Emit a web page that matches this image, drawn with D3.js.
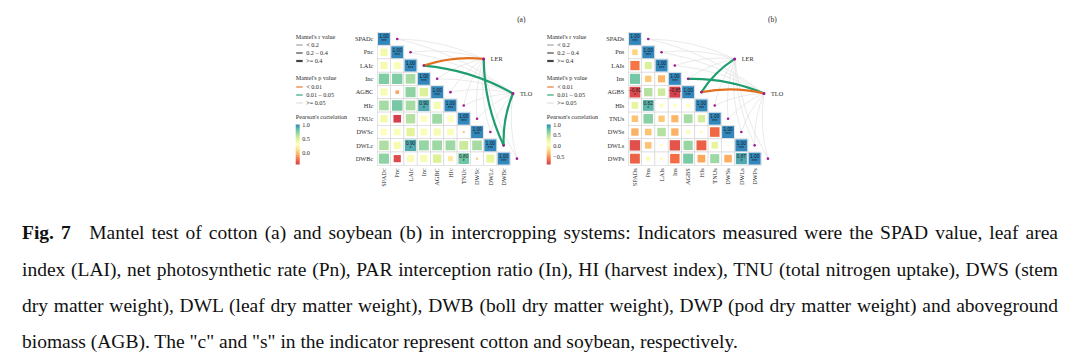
<!DOCTYPE html>
<html>
<head>
<meta charset="utf-8">
<script src="https://cdn.jsdelivr.net/npm/d3@7"></script>
<style>
  html, body { margin: 0; padding: 0; background: #fff; }
  svg { display: block; }
  .lab { font-family: "Liberation Serif", "Times New Roman", serif; fill: #2b2b2b; }
  .num { font-family: "Liberation Sans", Arial, sans-serif; fill: #1a1a1a; }
  .cap { font-family: "Liberation Serif", "Times New Roman", serif; fill: #111; }
</style>
</head>
<body>
<svg id="chart" width="1080" height="362"></svg>
<script>
// Mantel test panels: (a) cotton, (b) soybean
const varsA = ["SPADc", "Pnc", "LAIc", "Inc", "AGBC", "HIc", "TNUc", "DWSc", "DWLc", "DWBc"];
const varsB = ["SPADs", "Pns", "LAIs", "Ins", "AGBS", "HIs", "TNUs", "DWSs", "DWLs", "DWPs"];

// lower triangle of Pearson's r, row by row (diagonal included)
const corrA = [
    [1.00],
    [0.38, 1.00],
    [0.36, 0.33, 1.00],
    [0.76, 0.76, 0.66, 1.00],
    [0.35, -0.09, 0.72, 0.50, 1.00],
    [0.66, 0.78, 0.66, 0.90, 0.35, 1.00],
    [0.38, -0.41, 0.62, 0.30, 0.68, 0.30, 1.00],
    [0.30, 0.32, 0.48, 0.32, 0.36, 0.32, 0.03, 1.00],
    [0.64, 0.36, 0.90, 0.70, 0.68, 0.68, 0.55, 0.66, 1.00],
    [0.72, -0.36, 0.34, 0.35, 0.50, 0.18, 0.80, 0.03, 0.45, 1.00]
];
const corrB = [
    [1.00],
    [-0.22, 1.00],
    [-0.60, 0.35, 1.00],
    [0.72, -0.28, -0.36, 1.00],
    [-0.81, 0.50, 0.40, -0.85, 1.00],
    [0.30, 0.82, 0.10, 0.08, 0.10, 1.00],
    [-0.30, 0.65, -0.28, -0.36, 0.55, 0.38, 1.00],
    [-0.38, -0.30, 0.50, -0.38, 0.12, 0.05, -0.65, 1.00],
    [-0.77, -0.30, 0.04, -0.75, 0.60, -0.69, 0.30, 0.01, 1.00],
    [-0.68, 0.12, 0.05, -0.63, 0.70, -0.42, 0.58, -0.40, 0.87, 1.00]
];

// significant off-diagonal cells: [row, col, stars]
const sigA = [[5, 3, "*"], [8, 2, "*"], [9, 6, "*"]];
const sigB = [[4, 0, "*"], [4, 3, "*"], [5, 1, "*"], [9, 8, "*"]];

// Mantel's r and p, one row per environment factor (LER, TLO)
const envs = ["LER", "TLO"];
const mantelRA = [
    [0.12, 0.10, 0.52, 0.15, 0.08, 0.18, 0.10, 0.14, 0.45, 0.16],
    [0.10, 0.16, 0.47, 0.12, 0.14, 0.09, 0.17, 0.11, 0.48, 0.13]
];
const mantelPA = [
    [0.45, 0.62, 0.005, 0.38, 0.71, 0.30, 0.66, 0.52, 0.02, 0.41],
    [0.58, 0.33, 0.03, 0.49, 0.40, 0.77, 0.28, 0.61, 0.02, 0.44]
];
const mantelRB = [
    [0.10, 0.12, 0.08, 0.15, 0.46, 0.10, 0.13, 0.09, 0.16, 0.11],
    [0.14, 0.10, 0.12, 0.44, 0.50, 0.09, 0.15, 0.12, 0.10, 0.17]
];
const mantelPB = [
    [0.55, 0.47, 0.70, 0.36, 0.03, 0.58, 0.42, 0.66, 0.31, 0.50],
    [0.39, 0.61, 0.48, 0.04, 0.008, 0.72, 0.35, 0.53, 0.60, 0.29]
];

const limA = [-0.41, 1.0];
const limB = [-0.86, 1.0];
const ticksA = [1.0, 0.5, 0.0];
const ticksB = [1.0, 0.5, 0.0, -0.5];

const rBreaks = ["< 0.2", "0.2 \u2013 0.4", ">= 0.4"];
const pBreaks = ["< 0.01", "0.01 \u2013 0.05", ">= 0.05"];

const captionLines = [
    "Mantel test of cotton (a) and soybean (b) in intercropping systems: Indicators measured were the SPAD value, leaf area",
    "index (LAI), net photosynthetic rate (Pn), PAR interception ratio (In), HI (harvest index), TNU (total nitrogen uptake), DWS (stem",
    "dry matter weight), DWL (leaf dry matter weight), DWB (boll dry matter weight), DWP (pod dry matter weight) and aboveground",
    "biomass (AGB). The \"c\" and \"s\" in the indicator represent cotton and soybean, respectively."
];

const svg = d3.select("#chart");
const cell = 13.3;
const top0 = 32.3;
const spectral = d3.schemeSpectral[9];
const pColors = ["#E2701F", "#1E9E6E", "#DCDCDC"];
const rWidths = [0.6, 1.2, 2.2];
// env factor anchors in matrix units
const envAt = [[8.0, 2.0], [10.2, 4.6]];
const fmt = d3.format(".2f");

function drawPanel(dx, vars, corr, sig, mR, mP, lim, ticks, tag, id) {
    const n = vars.length;
    const x0 = 377.3 + dx;
    const g = svg.append("g");

    const xs = d3.scaleLinear().domain([0, n]).range([x0, x0 + n * cell]);
    const ys = d3.scaleLinear().domain([0, n]).range([top0, top0 + n * cell]);
    const color = d3.scaleLinear()
        .domain(d3.range(9).map(i => lim[0] + i * (lim[1] - lim[0]) / 8))
        .range(spectral)
        .clamp(true);
    const side = d3.scaleSqrt().domain([0, 1]).range([0, cell - 1.4]);

    // links first
    const links = [];
    envs.forEach((e, k) => vars.forEach((v, i) => {
        const r = mR[k][i], p = mP[k][i];
        links.push({
            k, i, r, p,
            w: r < 0.2 ? rWidths[0] : r < 0.4 ? rWidths[1] : rWidths[2],
            c: p < 0.01 ? pColors[0] : p < 0.05 ? pColors[1] : pColors[2]
        });
    }));
    links.sort((a, b) => b.p - a.p);

    g.append("g").selectAll("path")
        .data(links)
        .join("path")
        .attr("fill", "none")
        .attr("stroke", d => d.c)
        .attr("stroke-width", d => d.w)
        .attr("stroke-linecap", "round")
        .attr("d", d => {
            const ax = xs(envAt[d.k][0]), ay = ys(envAt[d.k][1]);
            const bx = xs(d.i + 1.5), by = ys(d.i + 0.5);
            const ddx = bx - ax, ddy = by - ay;
            const cx = (ax + bx) / 2 - 0.11 * ddy;
            const cy = (ay + by) / 2 + 0.11 * ddx;
            return `M${ax},${ay}Q${cx},${cy} ${bx},${by}`;
        });

    // cells
    const cells = corr.flatMap((row, i) => row.map((v, j) => ({ i, j, v })));
    const sigMap = new Map(sig.map(s => [`${s[0]}-${s[1]}`, s[2]]));
    cells.forEach(d => {
        d.stars = d.i === d.j ? "***" : (sigMap.get(`${d.i}-${d.j}`) || "");
    });

    g.append("g").selectAll("rect")
        .data(cells)
        .join("rect")
        .attr("x", d => xs(d.j))
        .attr("y", d => ys(d.i))
        .attr("width", cell)
        .attr("height", cell)
        .attr("fill", "#fff")
        .attr("stroke", "#d4d4d4")
        .attr("stroke-width", 0.6);

    g.append("g").selectAll("rect")
        .data(cells)
        .join("rect")
        .attr("x", d => xs(d.j + 0.5) - side(Math.abs(d.v)) / 2)
        .attr("y", d => ys(d.i + 0.5) - side(Math.abs(d.v)) / 2)
        .attr("width", d => side(Math.abs(d.v)))
        .attr("height", d => side(Math.abs(d.v)))
        .attr("fill", d => color(d.v));

    const labelled = cells.filter(d => d.stars);
    g.append("g").selectAll("text")
        .data(labelled)
        .join("text")
        .attr("class", "num")
        .attr("x", d => xs(d.j + 0.5))
        .attr("y", d => ys(d.i + 0.5) - 0.6)
        .attr("text-anchor", "middle")
        .attr("font-size", 4.8)
        .text(d => fmt(d.v));
    g.append("g").selectAll("text")
        .data(labelled)
        .join("text")
        .attr("class", "num")
        .attr("x", d => xs(d.j + 0.5))
        .attr("y", d => ys(d.i + 0.5) + 4.4)
        .attr("text-anchor", "middle")
        .attr("font-size", 4.8)
        .text(d => d.stars);

    // dots on the diagonal side and env points
    g.append("g").selectAll("circle")
        .data(vars)
        .join("circle")
        .attr("cx", (_, i) => xs(i + 1.5))
        .attr("cy", (_, i) => ys(i + 0.5))
        .attr("r", 1.3)
        .attr("fill", "#A3198E");
    g.append("g").selectAll("circle")
        .data(envs)
        .join("circle")
        .attr("cx", (_, k) => xs(envAt[k][0]))
        .attr("cy", (_, k) => ys(envAt[k][1]))
        .attr("r", 1.5)
        .attr("fill", "#A3198E");
    g.append("g").selectAll("text")
        .data(envs)
        .join("text")
        .attr("class", "lab")
        .attr("x", (_, k) => xs(envAt[k][0]) + 7)
        .attr("y", (_, k) => ys(envAt[k][1]) + 2.2)
        .attr("font-size", 6.3)
        .text(d => d);

    // row and column labels
    g.append("g").selectAll("text")
        .data(vars)
        .join("text")
        .attr("class", "lab")
        .attr("x", x0 - 4)
        .attr("y", (_, i) => ys(i + 0.5) + 2.2)
        .attr("text-anchor", "end")
        .attr("font-size", 6.3)
        .text(d => d);
    g.append("g").selectAll("text")
        .data(vars)
        .join("text")
        .attr("class", "lab")
        .attr("text-anchor", "end")
        .attr("font-size", 6.3)
        .attr("transform", (_, i) => `translate(${xs(i + 0.5) + 2.2},${ys(n) + 3}) rotate(-90)`)
        .text(d => d);

    g.append("text")
        .attr("class", "lab")
        .attr("x", x0 + 144)
        .attr("y", 22)
        .attr("text-anchor", "middle")
        .attr("font-size", 7.5)
        .text(tag);

    // legend
    const lx = 295.7 + dx;
    const leg = g.append("g").attr("class", "lab").attr("font-size", 6.2);
    leg.append("text").attr("x", lx).attr("y", 38.5).text("Mantel's r value");
    rBreaks.forEach((t, i) => {
        const cy = 45 + i * 8;
        leg.append("line").attr("x1", lx + 0.5).attr("x2", lx + 7).attr("y1", cy).attr("y2", cy)
            .attr("stroke", "#444").attr("stroke-width", rWidths[i]);
        leg.append("text").attr("x", lx + 10.5).attr("y", cy + 2.2).text(t);
    });
    leg.append("text").attr("x", lx).attr("y", 79.5).text("Mantel's p value");
    pBreaks.forEach((t, i) => {
        const cy = 87 + i * 8;
        leg.append("line").attr("x1", lx + 0.5).attr("x2", lx + 7).attr("y1", cy).attr("y2", cy)
            .attr("stroke", pColors[i]).attr("stroke-width", 1.1);
        leg.append("text").attr("x", lx + 10.5).attr("y", cy + 2.2).text(t);
    });
    leg.append("text").attr("x", lx).attr("y", 118.8).text("Pearson's correlation");

    const grad = svg.append("defs").append("linearGradient")
        .attr("id", id).attr("x1", 0).attr("x2", 0).attr("y1", 0).attr("y2", 1);
    spectral.slice().reverse().forEach((c, i) => {
        grad.append("stop").attr("offset", i / 8).attr("stop-color", c);
    });
    const cb = d3.scaleLinear().domain([lim[1], lim[0]]).range([124.5, 164.5]);
    g.append("rect")
        .attr("x", lx).attr("y", cb(lim[1]))
        .attr("width", 4).attr("height", cb(lim[0]) - cb(lim[1]))
        .attr("fill", `url(#${id})`);
    leg.selectAll(".tick")
        .data(ticks)
        .join("text")
        .attr("x", lx + 6.5)
        .attr("y", d => cb(d) + 2.2)
        .text(d => d3.format(".1f")(d));
}

drawPanel(0, varsA, corrA, sigA, mantelRA, mantelPA, limA, ticksA, "(a)", "gradA");
drawPanel(251, varsB, corrB, sigB, mantelRB, mantelPB, limB, ticksB, "(b)", "gradB");

// caption, justified lines
const capLeft = 22, capRight = 1058;
const baselines = [239, 276, 312, 347.5];
const cap = svg.append("g").attr("class", "cap");

// fit font size to last line width
const probe = cap.append("text").attr("font-size", 20).text(captionLines[3]);
const fs = 20 * 716 / probe.node().getComputedTextLength();
probe.remove();

captionLines.forEach((line, i) => {
    const t = cap.append("text")
        .attr("x", capLeft)
        .attr("y", baselines[i])
        .attr("font-size", fs);
    if (i === 0) {
        t.append("tspan").attr("font-weight", "bold").text("Fig. 7");
        t.append("tspan").attr("dx", fs * 0.95).text(line);
    } else {
        t.text(line);
    }
    if (i < 3) {
        const natural = t.node().getComputedTextLength() + (i === 0 ? fs * 0.95 : 0);
        const spaces = (line.match(/ /g) || []).length + (i === 0 ? 1 : 0);
        t.style("word-spacing", `${(capRight - capLeft - natural) / spaces}px`);
    }
});
</script>
</body>
</html>
